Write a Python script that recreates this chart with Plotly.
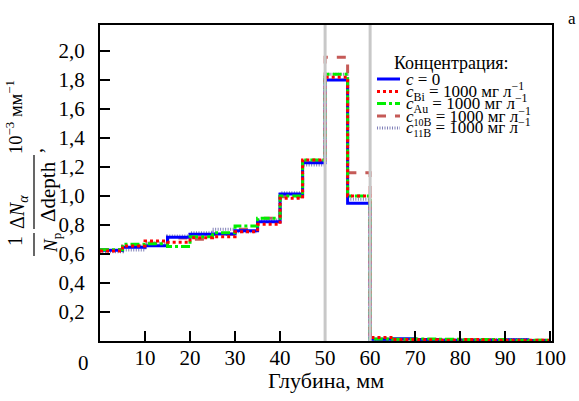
import plotly.graph_objects as go

# Depth bins, mm (5 mm wide, 0..100)
bin_edges = [0, 5, 10, 15, 20, 25, 30, 35, 40, 45, 50,
             55, 60, 65, 70, 75, 80, 85, 90, 95, 100]

# Normalised alpha yield per bin, 10^-3 mm^-1
c_zero = [0.625, 0.645, 0.656, 0.714, 0.735, 0.737, 0.760, 0.822, 1.012, 1.228,
          1.797, 0.948, 0.012, 0.016, 0.010, 0.006, 0.006, 0.005, 0.008, 0.004]
c_bi = [0.620, 0.654, 0.689, 0.680, 0.711, 0.718, 0.753, 0.804, 0.983, 1.247,
        1.816, 0.999, 0.024, 0.010, 0.008, 0.006, 0.010, 0.006, 0.005, 0.006]
c_au = [0.628, 0.666, 0.670, 0.650, 0.718, 0.746, 0.792, 0.845, 0.999, 1.247,
        1.837, 0.999, 0.014, 0.012, 0.014, 0.012, 0.008, 0.010, 0.006, 0.005]
c_b10 = [0.630, 0.655, 0.673, 0.710, 0.700, 0.735, 0.769, 0.845, 0.994, 1.240,
         1.954, 1.159, 0.012, 0.010, 0.008, 0.004, 0.008, 0.010, 0.004, 0.006]
c_b11 = [0.615, 0.627, 0.675, 0.723, 0.746, 0.769, 0.753, 0.833, 1.021, 1.212,
         1.837, 0.976, 0.010, 0.008, 0.006, 0.008, 0.006, 0.008, 0.010, 0.004]

x_ticks = [10, 20, 30, 40, 50, 60, 70, 80, 90, 100]
y_ticks = [0.2, 0.4, 0.6, 0.8, 1.0, 1.2, 1.4, 1.6, 1.8, 2.0]
y_tick_text = ["0,2", "0,4", "0,6", "0,8", "1,0", "1,2", "1,4", "1,6", "1,8", "2,0"]
marker_lines = [50, 60]

unit = "\u00a0= 1000 мг л<sup>−1</sup>"
series = [
    ("<i>c</i>\u00a0= 0", c_zero, "#0000ff", "solid", 3),
    ("<i>c</i><sub>Bi</sub>" + unit, c_bi, "#ff0000", "dot", 3),
    ("<i>c</i><sub>Au</sub>" + unit, c_au, "#00ee00", "dashdot", 3),
    ("<i>c</i><sub><span style='font-size:10px'>10</span>B</sub>" + unit, c_b10, "#c55a57", "dash", 3),
    ("<i>c</i><sub><span style='font-size:10px'>11</span>B</sub>" + unit, c_b11, "#8080b8", "1px,1.5px", 3),
]

W, H = 579, 401
L, R, T, B = 100, 552, 25, 341
FONT = "Liberation Serif"
TICK_SIZE = 21


def px(x):
    return (x - L) / (R - L)


def py(y):
    return (B - y) / (B - T)


fig = go.Figure()

# order of drawing: wider dashed first, solid/dotted on top
draw_order = [3, 4, 0, 2, 1]
for i in draw_order:
    name, vals, color, dash, width = series[i]
    fig.add_trace(go.Scatter(
        x=bin_edges, y=vals + [vals[-1]],
        mode="lines", line=dict(color=color, dash=dash, width=width, shape="hv"),
        name=name, showlegend=False,
    ))

shapes = []
for xv in marker_lines:
    shapes.append(dict(type="line", xref="x", yref="paper", x0=xv, x1=xv, y0=0, y1=1,
                       line=dict(color="#c8c8c8", width=3), layer="above"))

annotations = []

# legend drawn as text + sample lines
annotations.append(dict(text="Концентрация:", xref="paper", yref="paper",
                        x=px(392), y=py(63), xanchor="left", yanchor="middle",
                        showarrow=False, font=dict(family=FONT, size=18, color="black")))
leg_y = [79, 91.5, 103.5, 116, 128]
for (name, vals, color, dash, width), yy in zip(series, leg_y):
    shapes.append(dict(type="line", xref="paper", yref="paper",
                       x0=px(377), x1=px(400), y0=py(yy), y1=py(yy),
                       line=dict(color=color, dash=dash, width=width)))
    annotations.append(dict(text=name, xref="paper", yref="paper",
                            x=px(404), y=py(yy), xanchor="left", yanchor="middle",
                            showarrow=False, font=dict(family=FONT, size=17, color="black")))

# rotated y-axis title: (1/N_p)(ΔN_α/Δdepth), 10^-3 мм^-1
def rot(text, x, y, size=20):
    annotations.append(dict(text=text, xref="paper", yref="paper", x=px(x), y=py(y),
                            xanchor="center", yanchor="middle", textangle=-90,
                            showarrow=False, font=dict(family=FONT, size=size, color="black")))

rot("1", 15, 241)
rot("<i>N</i><sub>p</sub>", 52, 243, size=19)
rot("Δ<i>N</i><sub><i>α</i></sub>", 18, 212)
rot("Δdepth", 48, 192, size=21)
rot(",", 35, 151)
rot("10<sup>−3</sup> мм<sup>−1</sup>", 14, 117, size=18.5)
for (ya, yb) in [(233, 256), (155, 229)]:
    shapes.append(dict(type="line", xref="paper", yref="paper",
                       x0=px(34), x1=px(34), y0=py(ya), y1=py(yb),
                       line=dict(color="black", width=1.2)))

# shared origin label and x title
annotations.append(dict(text="0", xref="paper", yref="paper", x=px(83), y=py(363),
                        xanchor="center", yanchor="middle", showarrow=False,
                        font=dict(family=FONT, size=TICK_SIZE, color="black")))
annotations.append(dict(text="Глубина, мм", xref="paper", yref="paper", x=px(326), y=py(380),
                        xanchor="center", yanchor="middle", showarrow=False,
                        font=dict(family=FONT, size=22, color="black")))
annotations.append(dict(text="а", xref="paper", yref="paper", x=px(572), y=py(18),
                        xanchor="center", yanchor="middle", showarrow=False,
                        font=dict(family=FONT, size=17, color="black")))

axis_common = dict(showgrid=False, zeroline=False, showline=True, linecolor="black",
                   linewidth=2, mirror=True, ticks="inside", ticklen=10, tickwidth=1.5,
                   tickcolor="black", tickfont=dict(family=FONT, size=TICK_SIZE, color="black"))

fig.update_layout(
    width=W, height=H,
    margin=dict(l=L, r=W - R, t=T, b=H - B),
    plot_bgcolor="white", paper_bgcolor="white",
    font=dict(family=FONT),
    xaxis=dict(range=[0, 100.4], tickvals=x_ticks, ticklabelstandoff=-3, **axis_common),
    yaxis=dict(range=[0, 2.176], tickvals=y_ticks, ticktext=y_tick_text,
               ticklabelstandoff=9, **axis_common),
    shapes=shapes, annotations=annotations,
    showlegend=False,
)

fig.write_html("out.html")
